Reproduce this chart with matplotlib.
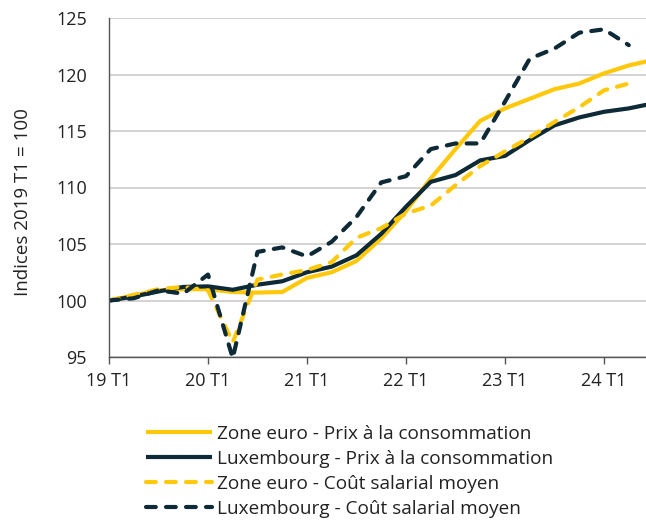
import matplotlib
matplotlib.use("Agg")
import matplotlib.pyplot as plt

plt.rcParams['font.family'] = ['Open Sans', 'DejaVu Sans']

quarters = ["19 T1", "19 T2", "19 T3", "19 T4", "20 T1", "20 T2", "20 T3", "20 T4",
            "21 T1", "21 T2", "21 T3", "21 T4", "22 T1", "22 T2", "22 T3", "22 T4",
            "23 T1", "23 T2", "23 T3", "23 T4", "24 T1", "24 T2", "24 T3"]

ea_cpi = [100, 100.45, 100.9, 101.0, 101.0, 100.75, 100.7, 100.75, 102.0, 102.5, 103.5,
          105.5, 107.9, 110.8, 113.4, 115.9, 117.0, 117.85, 118.7, 119.2, 120.1, 120.8, 121.3]
lu_cpi = [100, 100.35, 100.8, 101.2, 101.25, 100.95, 101.4, 101.7, 102.5, 103.0, 104.0,
          105.9, 108.3, 110.5, 111.1, 112.4, 112.8, 114.2, 115.5, 116.2, 116.7, 117.0, 117.45]
ea_wage = [100, 100.5, 101.0, 101.2, 100.9, 96.3, 101.85, 102.3, 102.7, 103.4, 105.55,
           106.4, 107.7, 108.4, 110.2, 111.9, 113.2, 114.45, 115.8, 117.1, 118.6, 119.2]
lu_wage = [100, 100.2, 100.9, 100.6, 102.3, 94.9, 104.3, 104.7, 103.9, 105.2, 107.4,
           110.45, 111.0, 113.4, 113.9, 113.9, 117.6, 121.4, 122.3, 123.7, 124.0, 122.6]

labels = ["Zone euro - Prix à la consommation",
          "Luxembourg - Prix à la consommation",
          "Zone euro - Coût salarial moyen",
          "Luxembourg - Coût salarial moyen"]

YEL = "#FFC80A"
NAV = "#0E2A36"

fig = plt.figure(figsize=(6.46, 5.23), dpi=100)
ax = fig.add_axes([109/646, (523-357)/523, (646-109)/646, (357-18)/523])

x = list(range(len(quarters)))
lw = 3.0
dash = (0, (2.35, 2.45))
ax.plot(x[:len(ea_cpi)], ea_cpi, color=YEL, lw=lw, label=labels[0], solid_capstyle='butt')
ax.plot(x[:len(lu_cpi)], lu_cpi, color=NAV, lw=lw, label=labels[1], solid_capstyle='butt')
ax.plot(x[:len(ea_wage)], ea_wage, color=YEL, lw=lw, ls=dash, label=labels[2],
        dash_capstyle='round')
ax.plot(x[:len(lu_wage)], lu_wage, color=NAV, lw=lw, ls=dash, label=labels[3],
        dash_capstyle='round')

ax.set_xlim(0, (646-109)/24.75)
ax.set_ylim(95, 125)
ax.set_yticks([95, 100, 105, 110, 115, 120, 125])
ax.set_xticks([0, 4, 8, 12, 16, 20])
ax.set_xticklabels([quarters[i] for i in [0, 4, 8, 12, 16, 20]])
ax.grid(axis='y', color='#D0D0D0', lw=1.3)
ax.set_axisbelow(True)
for s in ['top', 'right']:
    ax.spines[s].set_visible(False)
for s in ['left', 'bottom']:
    ax.spines[s].set_color('#555555')
    ax.spines[s].set_linewidth(1.0)
ax.tick_params(axis='y', length=0, pad=16, labelsize=13, colors='#222222')
ax.tick_params(axis='x', length=5, width=1, color='#555555', pad=6, labelsize=13,
               labelcolor='#222222')
ax.set_ylabel("Indices 2019 T1 = 100", fontsize=13.5, color='#222222')
ax.yaxis.set_label_coords((32-109)/537, (357-202)/339)

leg = fig.legend(loc='upper left', bbox_to_anchor=(146/646, 1 - 425/523), frameon=False,
                 fontsize=13.7, handlelength=3.45, handletextpad=0.27, labelspacing=0.36,
                 borderaxespad=0, borderpad=0)
for t in leg.get_texts():
    t.set_color('#222222')

fig.savefig("out.png", dpi=100)
